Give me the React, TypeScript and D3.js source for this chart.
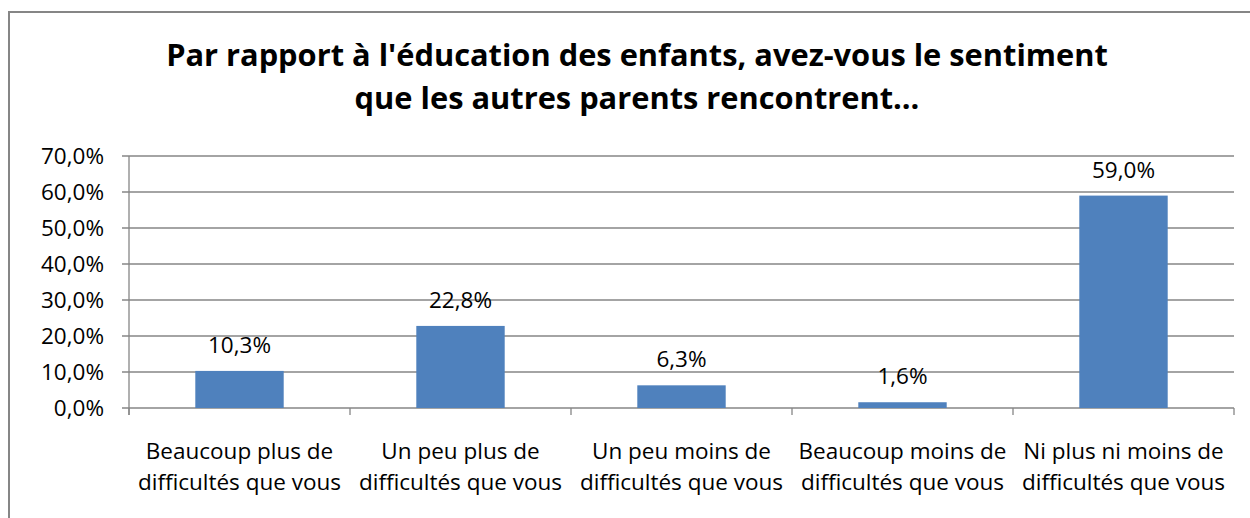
import React from "react";
import * as d3 from "d3";

const categories = [
  ["Beaucoup plus de", "difficultés que vous"],
  ["Un peu plus de", "difficultés que vous"],
  ["Un peu moins de", "difficultés que vous"],
  ["Beaucoup moins de", "difficultés que vous"],
  ["Ni plus ni moins de", "difficultés que vous"],
];
const values = [10.3, 22.8, 6.3, 1.6, 59.0];
const yTicks = [0, 10, 20, 30, 40, 50, 60, 70];
const titleLines = [
  "Par rapport à l'éducation des enfants, avez-vous le sentiment",
  "que les autres parents rencontrent...",
];

const W = 1250;
const H = 518;
const left = 129;
const right = 1234;
const top = 156;
const bottom = 408;
const FONT = "'Open Sans', 'Liberation Sans', sans-serif";

const fmt = (v: number) => v.toFixed(1).replace(".", ",") + "%";

export default function App() {
  const idx = categories.map((_, i) => String(i));
  const x = d3.scaleBand().domain(idx).range([left, right]).paddingInner(0.6).paddingOuter(0.3);
  const xc = d3.scaleBand().domain(idx).range([left, right]);
  const y = d3.scaleLinear().domain([0, 70]).range([bottom, top]);
  const bounds = d3.range(categories.length + 1).map((i) => left + i * xc.step());
  return (
    <svg
      width={W}
      height={H}
      style={{ position: "absolute", left: 0, top: 0, background: "#fff" }}
    >
      <rect x={9} y={12} width={W + 10} height={H + 10} fill="#fff" stroke="#868686" strokeWidth={2} />
      {titleLines.map((t, i) => (
        <text
          key={i}
          x={637}
          y={66 + i * 43}
          textAnchor="middle"
          fontFamily={FONT}
          fontWeight="bold"
          fontSize={30.8}
          fill="#000"
        >
          {t}
        </text>
      ))}
      {yTicks.map((t) => (
        <g key={t}>
          <line x1={122} x2={right} y1={y(t)} y2={y(t)} stroke="#868686" strokeWidth={1.3} />
          <text
            x={104}
            y={y(t)}
            dy="0.35em"
            textAnchor="end"
            fontFamily={FONT}
            fontSize={22.5}
            fill="#000"
          >
            {fmt(t)}
          </text>
        </g>
      ))}
      <line x1={left} x2={left} y1={top} y2={bottom + 7} stroke="#868686" strokeWidth={1.3} />
      {bounds.map((b, i) => (
        <line key={i} x1={b} x2={b} y1={bottom} y2={bottom + 7} stroke="#868686" strokeWidth={1.3} />
      ))}
      {values.map((v, i) => (
        <g key={i}>
          <rect
            x={x(String(i))}
            y={y(v)}
            width={x.bandwidth()}
            height={y(0) - y(v)}
            fill="#4F81BD"
          />
          <text
            x={(x(String(i)) as number) + x.bandwidth() / 2}
            y={y(v) - 18}
            textAnchor="middle"
            fontFamily={FONT}
            fontSize={22.5}
            fill="#000"
          >
            {fmt(v)}
          </text>
        </g>
      ))}
      {categories.map((lines, i) => (
        <text
          key={i}
          x={(xc(String(i)) as number) + xc.bandwidth() / 2}
          textAnchor="middle"
          fontFamily={FONT}
          fontSize={22.5}
          fill="#000"
        >
          {lines.map((l, j) => (
            <tspan key={j} x={(xc(String(i)) as number) + xc.bandwidth() / 2} y={459 + j * 31}>
              {l}
            </tspan>
          ))}
        </text>
      ))}
    </svg>
  );
}
